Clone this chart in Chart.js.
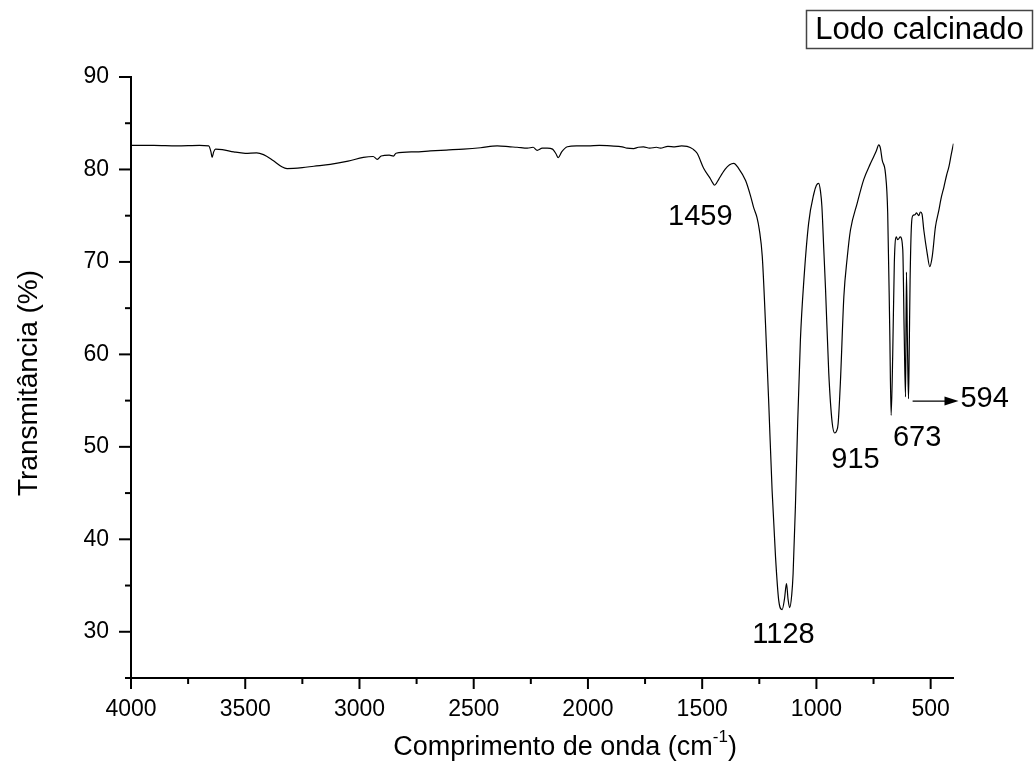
<!DOCTYPE html>
<html lang="pt">
<head>
  <meta charset="UTF-8">
  <title>FTIR - Lodo calcinado</title>
  <script src="https://cdn.jsdelivr.net/npm/chart.js"></script>
  <style>
    html, body { margin: 0; padding: 0; background: #fff; }
    #wrap { width: 1035px; height: 773px; }
  </style>
</head>
<body>
  <div id="wrap"><canvas id="ftir" width="1035" height="773"></canvas></div>

  <script>
    // numero de onda (cm-1) e transmitancia (%)
    const wavenumbers = [
      4000, 3900, 3800, 3700, 3660, 3650, 3645, 3638, 3630, 3600,
      3550, 3500, 3450, 3420, 3380, 3340, 3317, 3250, 3200, 3128,
      3050, 2983, 2940, 2922, 2905, 2870, 2851, 2840, 2760, 2690,
      2620, 2545, 2470, 2397, 2340, 2310, 2265, 2240, 2222, 2200,
      2178, 2155, 2140, 2130, 2115, 2090, 2050, 2000, 1950, 1900,
      1850, 1829, 1800, 1780, 1757, 1730, 1700, 1683, 1650, 1620,
      1590, 1566, 1540, 1522, 1493, 1464, 1455, 1446, 1438, 1427,
      1400, 1380, 1362, 1340, 1310, 1289, 1275, 1260, 1250, 1237,
      1223, 1208, 1194, 1179, 1165, 1150, 1140, 1131, 1124, 1117,
      1108, 1102, 1092, 1082, 1070, 1055, 1034, 1011, 1000, 990,
      982, 976, 968, 960, 946, 931, 920, 912, 905, 895,
      880, 865, 851, 822, 793, 763, 749, 738, 727, 720,
      712, 698, 688, 679, 673, 666, 659, 650, 645, 640,
      633, 622, 616, 610, 606, 602, 597, 594, 590, 584,
      578, 568, 562, 552, 545, 538, 530, 515, 504, 493,
      479, 464, 455, 442, 430, 420, 410, 400
    ];
    const transmittance = [
      82.6, 82.6, 82.55, 82.6, 82.55, 81.9, 81.3, 81.9, 82.2, 82.15,
      81.9, 81.75, 81.8, 81.6, 81.0, 80.3, 80.1, 80.2, 80.35, 80.55,
      80.9, 81.3, 81.4, 81.1, 81.45, 81.55, 81.45, 81.75, 81.9, 82.0,
      82.1, 82.2, 82.35, 82.55, 82.45, 82.4, 82.3, 82.4, 82.07, 82.3,
      82.3, 82.2, 81.7, 81.27, 81.9, 82.46, 82.55, 82.55, 82.6, 82.55,
      82.45, 82.3, 82.25, 82.4, 82.45, 82.3, 82.4, 82.3, 82.5, 82.45,
      82.55, 82.5, 82.2, 81.75, 80.1, 79.0, 78.6, 78.3, 78.5, 78.96,
      80.0, 80.5, 80.66, 80.1, 78.8, 77.2, 75.9, 74.8, 73.5, 70.6,
      63.4, 54.3, 45.3, 38.1, 33.4, 32.4, 33.5, 35.2, 33.5, 32.6,
      34.0, 36.3, 43.5, 52.6, 61.6, 68.0, 74.2, 77.4, 78.3, 78.5,
      77.6, 76.0, 71.5, 67.0, 58.0, 52.6, 51.5, 51.7, 52.5, 57.0,
      66.2, 70.5, 73.45, 76.3, 78.9, 80.66, 81.4, 82.0, 82.65, 82.3,
      81.0, 79.6, 75.3, 62.6, 53.4, 60.0, 69.9, 72.7, 72.4, 72.5,
      72.7, 71.3, 62.6, 55.4, 68.9, 62.0, 55.2, 60.0, 68.0, 74.0,
      75.0, 75.1, 75.3, 75.0, 75.4, 75.2, 73.45, 70.9, 69.5, 70.6,
      73.8, 75.6, 76.8, 78.1, 79.4, 80.3, 81.6, 82.8
    ];

    // marcas dos eixos
    const xTicks = [4000, 3750, 3500, 3250, 3000, 2750, 2500, 2250, 2000, 1750, 1500, 1250, 1000, 750, 500];
    const yTicks = [25, 30, 35, 40, 45, 50, 55, 60, 65, 70, 75, 80, 85, 90];

    // bandas marcadas no grafico
    const peakLabels = ['1459', '1128', '915', '673', '594'];
    const labelX = [1508, 1144, 829, 559, 264];
    const labelY = [74.86, 29.64, 48.57, 51.0, 55.17];

    const FONT = "Arial, 'Liberation Sans', sans-serif";

    const decorPlugin = {
      id: 'decor',
      afterDraw(chart) {
        const ctx = chart.ctx;
        const xs = chart.scales.x, ys = chart.scales.y;
        const area = chart.chartArea;
        ctx.save();

        // marcas dos eixos (maiores e menores, para fora)
        ctx.strokeStyle = '#000';
        ctx.lineWidth = 2;
        xs.ticks.forEach(t => {
          const p = xs.getPixelForValue(t.value);
          const len = t.value % 500 === 0 ? 11 : 6;
          ctx.beginPath();
          ctx.moveTo(p, area.bottom);
          ctx.lineTo(p, area.bottom + len);
          ctx.stroke();
        });
        ys.ticks.forEach(t => {
          const p = ys.getPixelForValue(t.value);
          const len = t.value % 10 === 0 ? 12 : 6;
          ctx.beginPath();
          ctx.moveTo(area.left, p);
          ctx.lineTo(area.left - len, p);
          ctx.stroke();
        });

        // rotulos das bandas
        ctx.fillStyle = '#000';
        ctx.font = '29px ' + FONT;
        ctx.textAlign = 'center';
        ctx.textBaseline = 'middle';
        peakLabels.forEach((txt, i) => {
          ctx.fillText(txt, xs.getPixelForValue(labelX[i]), ys.getPixelForValue(labelY[i]));
        });

        // seta para 594
        const ax0 = xs.getPixelForValue(579), ax1 = xs.getPixelForValue(378);
        const ay = ys.getPixelForValue(54.95);
        ctx.lineWidth = 1.2;
        ctx.beginPath();
        ctx.moveTo(ax0, ay);
        ctx.lineTo(ax1 - 12, ay);
        ctx.stroke();
        ctx.beginPath();
        ctx.moveTo(ax1, ay);
        ctx.lineTo(ax1 - 14, ay - 4.5);
        ctx.lineTo(ax1 - 14, ay + 4.5);
        ctx.closePath();
        ctx.fill();

        // titulo eixo y
        ctx.font = '28px ' + FONT;
        ctx.save();
        ctx.translate(29, 383);
        ctx.rotate(-Math.PI / 2);
        ctx.fillText('Transmitância (%)', 0, 0);
        ctx.restore();

        // titulo eixo x com sobrescrito
        const main = 'Comprimento de onda (cm';
        const sup = '-1';
        const close = ')';
        ctx.font = '27px ' + FONT;
        const w1 = ctx.measureText(main).width;
        const w3 = ctx.measureText(close).width;
        ctx.font = '17px ' + FONT;
        const w2 = ctx.measureText(sup).width;
        let x = 565 - (w1 + w2 + w3) / 2;
        const y = 748;
        ctx.textAlign = 'left';
        ctx.font = '27px ' + FONT;
        ctx.fillText(main, x, y);
        x += w1;
        ctx.font = '17px ' + FONT;
        ctx.fillText(sup, x, y - 11);
        x += w2;
        ctx.font = '27px ' + FONT;
        ctx.fillText(close, x, y);

        // legenda
        ctx.strokeStyle = '#444';
        ctx.lineWidth = 1.5;
        ctx.strokeRect(806.5, 10.5, 226, 38);
        ctx.font = '31px ' + FONT;
        ctx.textAlign = 'center';
        ctx.fillText(chart.data.datasets[0].label, 919.5, 30);

        ctx.restore();
      }
    };

    new Chart(document.getElementById('ftir'), {
      type: 'line',
      data: {
        datasets: [{
          label: 'Lodo calcinado',
          data: wavenumbers.map((w, i) => ({ x: w, y: transmittance[i] })),
          borderColor: '#000',
          borderWidth: 1.2,
          pointRadius: 0,
          fill: false,
          cubicInterpolationMode: 'monotone'
        }]
      },
      options: {
        responsive: false,
        animation: false,
        layout: { padding: { top: 77, right: 81.5, left: 0, bottom: 0 } },
        plugins: {
          legend: { display: false },
          title: { display: false },
          tooltip: { enabled: false }
        },
        scales: {
          x: {
            type: 'linear',
            reverse: true,
            min: 400,
            max: 4000,
            afterFit: s => { s.height = 95; },
            afterBuildTicks: s => { s.ticks = xTicks.map(v => ({ value: v })); },
            ticks: {
              autoSkip: false,
              maxRotation: 0,
              padding: 18,
              color: '#000',
              font: { family: FONT, size: 23 },
              callback: v => v % 500 === 0 ? v : ''
            },
            grid: { display: false, drawTicks: false },
            border: { display: true, color: '#000', width: 2 }
          },
          y: {
            min: 25,
            max: 90,
            afterFit: s => { s.width = 131; },
            afterBuildTicks: s => { s.ticks = yTicks.map(v => ({ value: v })); },
            ticks: {
              autoSkip: false,
              padding: 22,
              color: '#000',
              font: { family: FONT, size: 23 },
              callback: v => v % 10 === 0 ? v : ''
            },
            grid: { display: false, drawTicks: false },
            border: { display: true, color: '#000', width: 2 }
          }
        }
      },
      plugins: [decorPlugin]
    });
  </script>
</body>
</html>
